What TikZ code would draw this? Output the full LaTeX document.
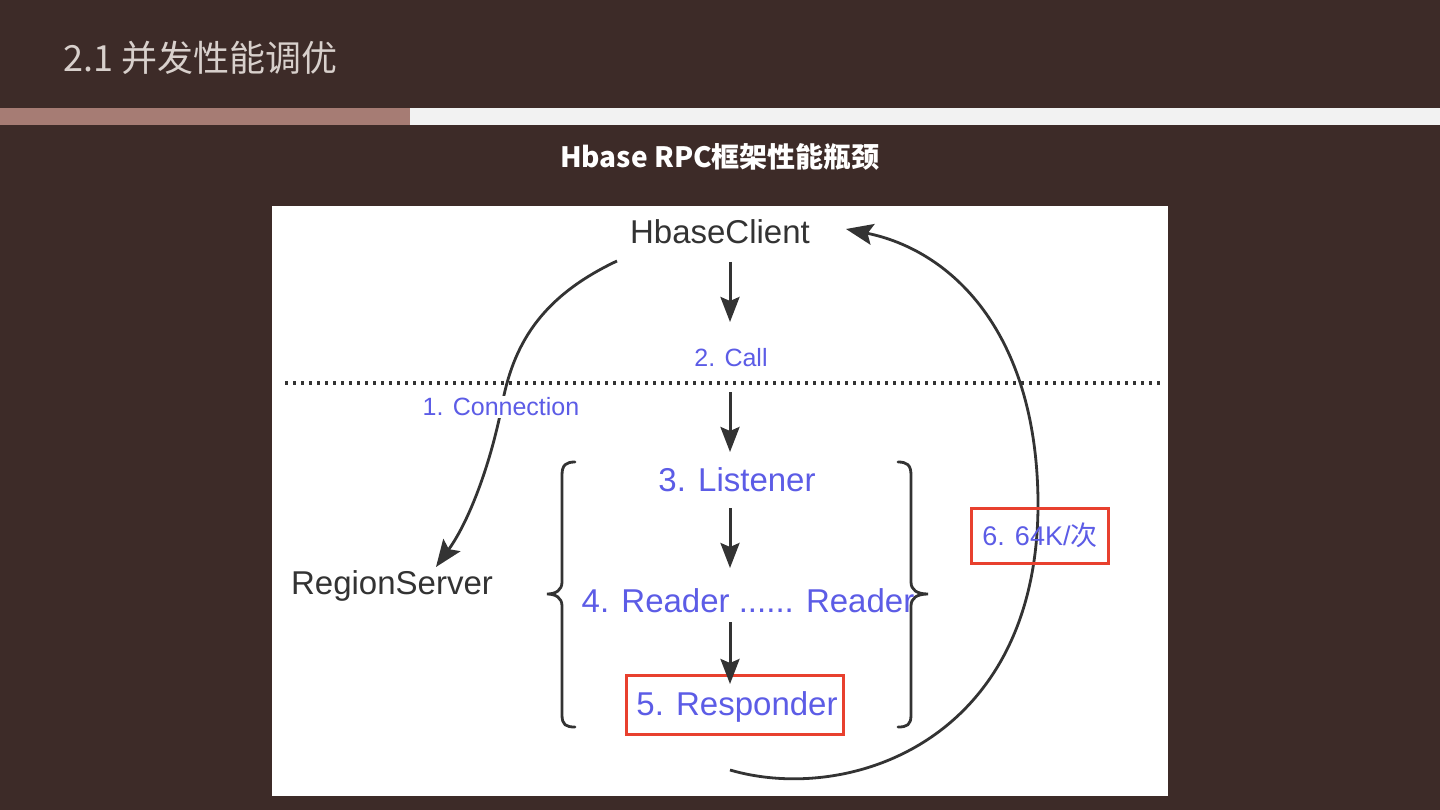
\documentclass[tikz,border=0pt]{standalone}
\usepackage{fontspec}
\setmainfont{Liberation Sans}
\newfontfamily\cjk{Noto Sans CJK SC}
\usetikzlibrary{arrows.meta}
\definecolor{bgbrown}{RGB}{61,43,40}
\definecolor{barrose}{RGB}{166,124,116}
\definecolor{barlight}{RGB}{242,242,242}
\definecolor{titlegray}{RGB}{216,208,204}
\definecolor{txtdark}{RGB}{51,51,51}
\definecolor{txtblue}{RGB}{92,92,230}
\definecolor{boxred}{RGB}{232,64,46}
\tikzset{
  dtext/.style={text=txtdark, font=\fontsize{33}{38}\selectfont, inner sep=0pt},
  btext/.style={text=txtblue, font=\fontsize{33}{38}\selectfont, inner sep=0pt},
  bsmall/.style={text=txtblue, font=\fontsize{25}{30}\selectfont, inner sep=0pt},
  redbox/.style={draw=boxred, line width=3pt},
  flow/.style={draw=txtdark, line width=3pt, -{Stealth[length=25pt,width=19pt,inset=4pt]}},
  curv/.style={draw=txtdark, line width=2.8pt, -{Stealth[length=27pt,width=21pt,inset=5pt]}},
  bracepath/.style={draw=txtdark, line width=2.8pt, line cap=round},
}
\begin{document}
\begin{tikzpicture}[x=1pt,y=-1pt]
\useasboundingbox (0,0) rectangle (1440,810);
\fill[bgbrown] (0,0) rectangle (1440,810);
% header bar
\fill[barrose] (0,108) rectangle (410,125);
\fill[barlight] (410,108) rectangle (1440,125);
\node[anchor=base west, inner sep=0pt, text=titlegray, font=\cjk\fontsize{36}{42}\selectfont] (title) at (63,72) {2.1 并发性能调优};
\node[anchor=base, inner sep=0pt, text=white, font=\cjk\bfseries\fontsize{28}{32}\selectfont] (subtitle) at (720,168) {Hbase RPC框架性能瓶颈};
% panel
\fill[white] (272,206) rectangle (1168,796);
% dotted line
\coordinate (dotL) at (285,383);
\coordinate (dotR) at (1162,383);
\draw[txtdark, line width=3.4pt, dash pattern=on 3pt off 5pt] (dotL) -- (dotR);
% nodes
\node[dtext] (client) at (720,232) {HbaseClient};
\node[dtext] (region) at (392,586) {RegionServer};
\node[bsmall] (call) at (731,358) {2. Call};
\node[btext] (listener) at (737,480) {3. Listener};
\node[btext] (reader) at (748,601) {4. Reader ...... Reader};
\node[redbox, minimum width=217pt, minimum height=59pt, inner sep=0pt] (respbox) at (734.5,704.5) {};
\node[btext] (resp) at (737,707) {5. Responder};
% arrows
\coordinate (a1s) at (730,262); \coordinate (a1e) at (730,322);
\coordinate (a2s) at (730,392); \coordinate (a2e) at (730,452);
\coordinate (a3s) at (730,508); \coordinate (a3e) at (730,568);
\coordinate (a4s) at (730,622); \coordinate (a4e) at (730,684);
\draw[flow] (a1s) -- (a1e);
\draw[flow] (a2s) -- (a2e);
\draw[flow] (a3s) -- (a3e);
\draw[flow] (a4s) -- (a4e);
% curve 1 (connection)
\coordinate (c1s) at (617,261);
\coordinate (c1m) at (503,400);
\coordinate (c1e) at (436,567);
\draw[curv] (c1s) .. controls (545,295) and (515,340) .. (c1m) .. controls (492,460) and (470,520) .. (c1e);
\node[bsmall, fill=white, inner sep=1.5pt] (conn) at (501,407) {1. Connection};
% braces
\draw[bracepath] (575,462) .. controls (566,462) and (562,465) .. (562,475) -- (562,582) .. controls (562,590) and (556,594) .. (547,594) .. controls (556,594) and (562,598) .. (562,606) -- (562,715) .. controls (562,725) and (566,727) .. (575,727);
\draw[bracepath] (898,462) .. controls (907,462) and (911,465) .. (911,475) -- (911,582) .. controls (911,590) and (917,594) .. (928,594) .. controls (917,594) and (911,598) .. (911,606) -- (911,715) .. controls (911,725) and (907,727) .. (898,727);
% curve 6 (return)
\coordinate (c6s) at (730,770);
\coordinate (c6m) at (1038,500);
\coordinate (c6e) at (846,229);
\draw[curv] (c6s) .. controls (850,805) and (1040,740) .. (c6m) .. controls (1036,330) and (950,250) .. (c6e);
% 64K box
\node[redbox, minimum width=137pt, minimum height=55pt, inner sep=0pt, text=txtblue, font=\fontsize{27}{32}\selectfont] (k64) at (1040,535.5) {6. 64K/{\cjk 次}};
\end{tikzpicture}
\end{document}
